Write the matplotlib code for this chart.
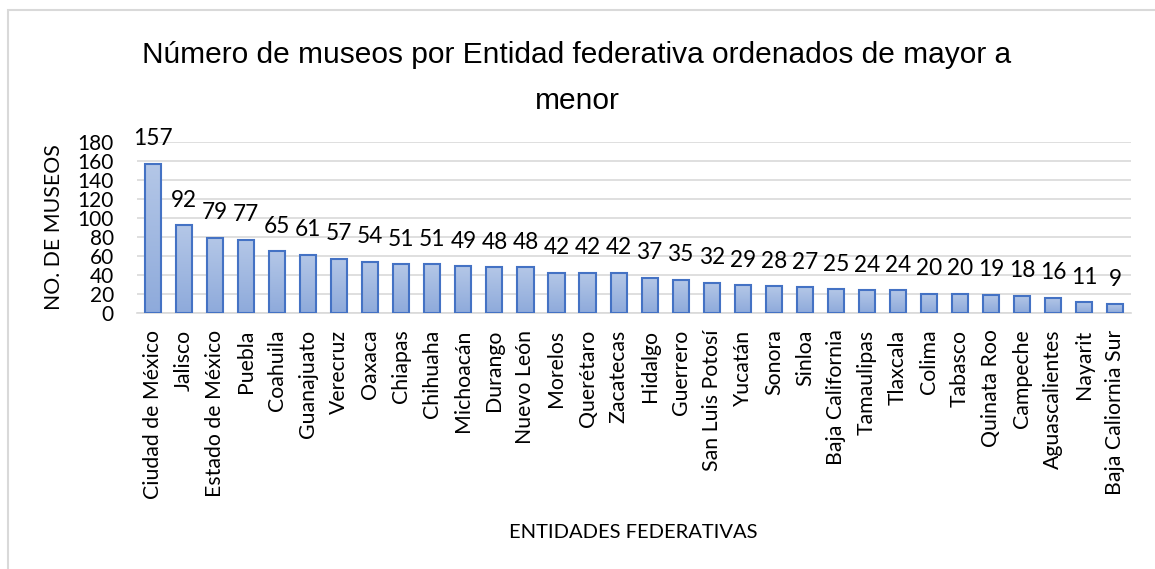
import matplotlib.pyplot as plt
import numpy as np
from matplotlib.colors import LinearSegmentedColormap
from matplotlib.patches import Rectangle

entidades = ['Ciudad de México', 'Jalisco', 'Estado de México', 'Puebla', 'Coahuila',
             'Guanajuato', 'Verecruz', 'Oaxaca', 'Chiapas', 'Chihuaha', 'Michoacán',
             'Durango', 'Nuevo León', 'Morelos', 'Querétaro', 'Zacatecas', 'Hidalgo',
             'Guerrero', 'San Luis Potosí', 'Yucatán', 'Sonora', 'Sinloa',
             'Baja California', 'Tamaulipas', 'Tlaxcala', 'Colima', 'Tabasco',
             'Quinata Roo', 'Campeche', 'Aguascalientes', 'Nayarit', 'Baja Caliornia Sur']
museos = [157, 92, 79, 77, 65, 61, 57, 54, 51, 51, 49, 48, 48, 42, 42, 42, 37, 35,
          32, 29, 28, 27, 25, 24, 24, 20, 20, 19, 18, 16, 11, 9]
yticks = list(range(0, 181, 20))

plt.rcParams['font.family'] = ['Lato', 'DejaVu Sans']

fig = plt.figure(figsize=(11.55, 5.69), dpi=100)
ax = fig.add_axes([0.119, 0.450, 0.860, 0.301])

# chart border (only top and left edges are visible in the crop)
fig.patches.append(Rectangle((8 / 1155, -0.1), 1.2, 1 - 9.5 / 569 + 0.1,
                             transform=fig.transFigure, fill=False,
                             edgecolor='#d9d9d9', linewidth=1.5))

x = np.arange(len(entidades))
bars = ax.bar(x, museos, width=0.52, color='none', edgecolor='#4472c4',
              linewidth=1.5, zorder=3)

# vertical gradient inside each bar
cmap = LinearSegmentedColormap.from_list('grad', ['#8eaadb', '#b4c7e7'])
grad = np.linspace(0, 1, 256).reshape(-1, 1)
for b in bars:
    im = ax.imshow(grad, cmap=cmap, origin='lower', aspect='auto',
                   extent=[b.get_x(), b.get_x() + b.get_width(), 0, b.get_height()],
                   zorder=2)
    im.set_clip_path(b)

for xi, v in zip(x, museos):
    ax.annotate(str(v), (xi, v), xytext=(0, 18), textcoords='offset points',
                ha='center', va='center', fontsize=16.3)

ax.set_xlim(-0.5, len(entidades) - 0.5)
ax.set_ylim(0, 180)
ax.set_yticks(yticks)
ax.set_xticks(x)
ax.set_xticklabels(entidades, rotation=90, fontsize=15.3)
ax.tick_params(axis='y', labelsize=15, length=0, pad=17)
ax.tick_params(axis='x', length=0, pad=12)
ax.yaxis.grid(True, color='#d9d9d9', linewidth=1.2, zorder=0)
ax.set_axisbelow(True)
for s in ['top', 'right', 'left']:
    ax.spines[s].set_visible(False)
ax.spines['bottom'].set_color('#d9d9d9')
ax.spines['bottom'].set_linewidth(1.2)

ax.set_ylabel('NO. DE MUSEOS', fontsize=15.3, labelpad=10)
fig.text(0.548, 1 - 533 / 569, 'ENTIDADES FEDERATIVAS', ha='center', va='center',
         fontsize=14.5)

fig.text(0.4995, 1 - 78 / 569,
         'Número de museos por Entidad federativa ordenados de mayor a\nmenor',
         ha='center', va='center', multialignment='center', fontsize=21.5,
         family='Liberation Sans', linespacing=1.78)

fig.savefig('out.png', dpi=100)
